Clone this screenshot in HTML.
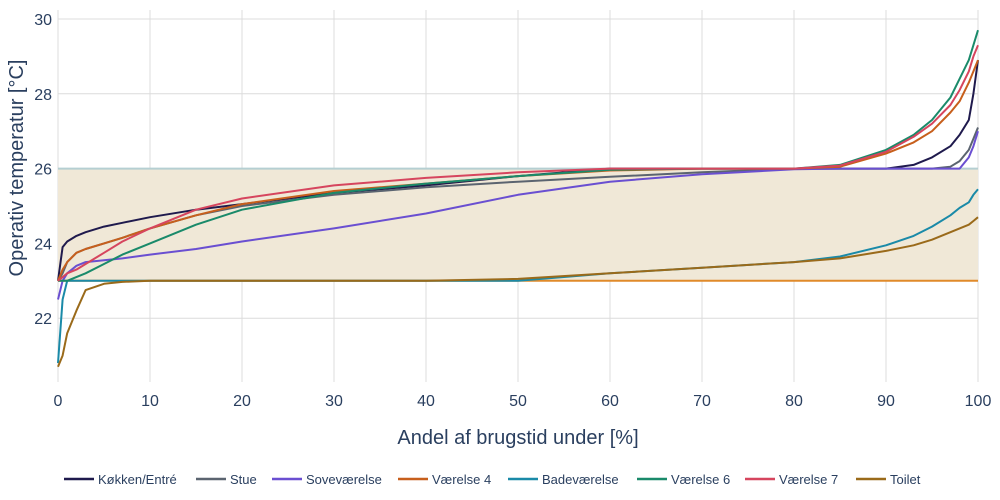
<!DOCTYPE html>
<html><head><meta charset="utf-8"><style>
body{margin:0;background:#fff;}
svg{display:block;font-family:"Liberation Sans",sans-serif;}
</style></head><body>
<svg id="chart" width="1000" height="500"></svg>
<script>
const xs=[0,0.5,1,2,3,5,7,10,15,20,30,40,50,60,70,80,85,90,93,95,97,98,99,99.5,100];
const names=["Køkken/Entré","Stue","Soveværelse","Værelse 4","Badeværelse","Værelse 6","Værelse 7","Toilet"];
const colors=["#1f1a4d","#5b6470","#6a4fd1","#c75f1c","#1a8aa8","#1a8a6a","#d6455e","#9a6a1a"];
const kokken=[23,23.9,24.05,24.2,24.3,24.45,24.55,24.7,24.9,25.05,25.35,25.55,25.8,26,26,26,26,26,26.1,26.3,26.6,26.9,27.3,28,28.9];
const stue=[23,23.2,23.5,23.75,23.85,24,24.15,24.4,24.75,25,25.3,25.5,25.65,25.78,25.9,26,26,26,26,26,26.05,26.2,26.5,26.8,27.1];
const sove=[22.5,23,23.2,23.4,23.5,23.55,23.6,23.7,23.85,24.05,24.4,24.8,25.3,25.65,25.85,25.98,26,26,26,26,26,26,26.3,26.6,27];
const v4=[23,23.3,23.5,23.75,23.85,24,24.15,24.4,24.75,25.05,25.4,25.6,25.8,25.95,26,26,26.05,26.4,26.7,27,27.5,27.8,28.3,28.6,28.9];
const bade=[20.8,22.5,23,23,23,23,23,23,23,23,23,23,23,23.2,23.35,23.5,23.65,23.95,24.2,24.45,24.75,24.95,25.1,25.3,25.45];
const v6=[23,23,23,23.1,23.2,23.45,23.7,24,24.5,24.9,25.35,25.6,25.8,25.97,26,26,26.1,26.5,26.9,27.3,27.9,28.4,28.9,29.3,29.7];
const v7=[23,23.1,23.2,23.3,23.45,23.75,24.05,24.4,24.9,25.2,25.55,25.75,25.9,26,26,26,26.08,26.45,26.85,27.2,27.7,28.1,28.6,29,29.3];
const toilet=[20.7,21,21.6,22.2,22.75,22.92,22.97,23,23,23,23,23,23.05,23.2,23.35,23.5,23.6,23.8,23.95,24.1,24.3,24.4,24.5,24.6,24.7];
const series=[kokken,stue,sove,v4,bade,v6,v7,toilet];
const xTicks=[0,10,20,30,40,50,60,70,80,90,100];
const yTicks=[22,24,26,28,30];
const bandLow=23, bandHigh=26;
const legendX=[64,196,272,398,508,637,745,856];

const NS="http://www.w3.org/2000/svg";
const svg=document.getElementById('chart');
const X=v=>58+v*9.2;
const Y=v=>19+(30-v)*37.4;
function mk(t,a){const e=document.createElementNS(NS,t);for(const k in a)e.setAttribute(k,a[k]);svg.appendChild(e);return e;}
// grid
xTicks.forEach(t=>{const l=mk('line',{x1:X(t),x2:X(t),y1:10,y2:382,stroke:'#dcdcdc','stroke-width':1});

const tx=mk('text',{x:X(t),y:406,'text-anchor':'middle','font-size':16,fill:'#2a3f5f'});tx.textContent=t;
});
yTicks.forEach(t=>{const l=mk('line',{x1:58,x2:978,y1:Y(t),y2:Y(t),stroke:'#dcdcdc','stroke-width':1});

const tx=mk('text',{x:52,y:Y(t)+6,'text-anchor':'end','font-size':16,fill:'#2a3f5f'});tx.textContent=t;
});
// band
const b=mk('rect',{x:X(0),y:Y(bandHigh),width:X(100)-X(0),height:Y(bandLow)-Y(bandHigh),fill:'#f0e8d7'});

const bh=mk('line',{x1:X(0),x2:X(100),y1:Y(bandHigh),y2:Y(bandHigh),stroke:'#b5cfd2','stroke-width':2});

const bl=mk('line',{x1:X(0),x2:X(100),y1:Y(bandLow),y2:Y(bandLow),stroke:'#e08a2a','stroke-width':2});

// series
series.forEach((s,i)=>{const d=s.map((v,j)=>(j?'L':'M')+X(xs[j]).toFixed(1)+','+Y(v).toFixed(1)).join('');
const p=mk('path',{d:d,fill:'none',stroke:colors[i],'stroke-width':2,'stroke-linejoin':'round'});

const ls=mk('line',{x1:legendX[i],x2:legendX[i]+30,y1:479,y2:479,stroke:colors[i],'stroke-width':2.5});

const lt=mk('text',{x:legendX[i]+34,y:484,'font-size':13,fill:'#2a3f5f'});lt.textContent=names[i];
});
// axis titles
const xt=mk('text',{x:518,y:444,'text-anchor':'middle','font-size':20,fill:'#2a3f5f'});xt.textContent='Andel af brugstid under [%]';

const yt=mk('text',{x:0,y:0,'text-anchor':'middle','font-size':20,fill:'#2a3f5f',transform:'translate(23,168) rotate(-90)'});yt.textContent='Operativ temperatur [°C]';

</script>
</body></html>
